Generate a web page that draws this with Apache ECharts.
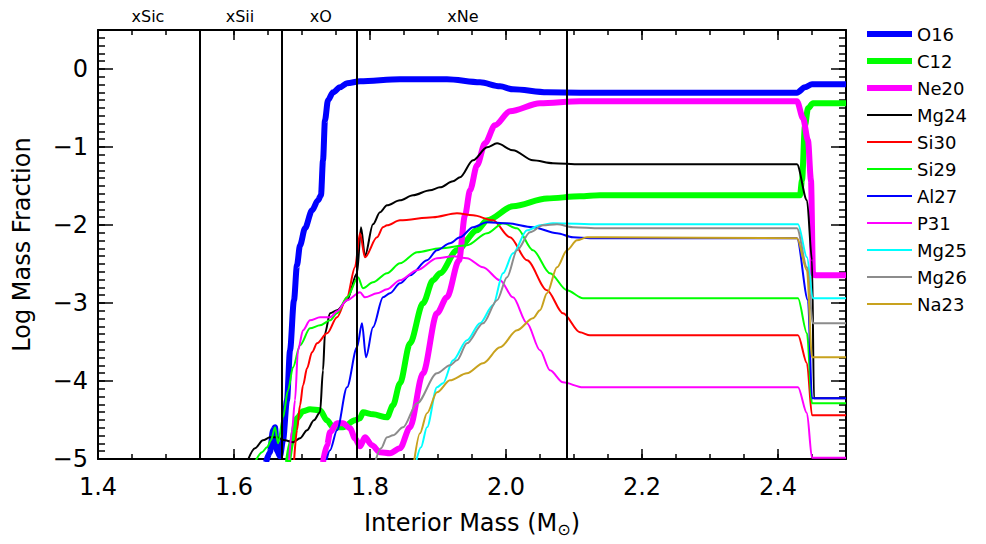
<!DOCTYPE html>
<html><head><meta charset="utf-8">
<script src="https://cdn.jsdelivr.net/npm/echarts/dist/echarts.min.js"></script>
<style>html,body{margin:0;padding:0;background:#fff}#c{width:986px;height:544px}</style>
</head><body><div id="c"></div>
<script>
// ---- data (interior mass in Msun, log mass fraction) ----
const O16 = [[1.6471,-5.04],[1.6529,-4.914],[1.6574,-4.632],[1.6603,-4.594],[1.6632,-4.888],[1.6676,-4.966],[1.6721,-4.76],[1.6779,-4.247],[1.6824,-3.606],[1.6882,-2.965],[1.6926,-2.517],[1.6971,-2.26],[1.7044,-2.042],[1.7147,-1.812],[1.7235,-1.683],[1.7279,-1.619],[1.7309,-1.171],[1.7338,-0.658],[1.7382,-0.401],[1.7456,-0.299],[1.7559,-0.235],[1.7662,-0.183],[1.7853,-0.158],[1.8441,-0.132],[1.9132,-0.132],[1.9618,-0.171],[1.9912,-0.222],[2.0103,-0.26],[2.0603,-0.299],[2.1088,-0.303],[2.4279,-0.303],[2.4397,-0.235],[2.45,-0.196],[2.5,-0.196]];
const C12 = [[1.6794,-5.04],[1.6853,-4.76],[1.6926,-4.478],[1.7015,-4.388],[1.7118,-4.363],[1.7265,-4.376],[1.7368,-4.504],[1.7456,-4.594],[1.7603,-4.594],[1.7779,-4.504],[1.7853,-4.478],[1.7897,-4.401],[1.8044,-4.427],[1.825,-4.465],[1.8338,-4.312],[1.8441,-4.029],[1.8588,-3.517],[1.8779,-3.004],[1.8926,-2.709],[1.9029,-2.619],[1.9279,-2.324],[1.9574,-2.068],[1.9721,-1.94],[2.0103,-1.76],[2.0603,-1.66],[2.1088,-1.632],[2.1382,-1.619],[2.4324,-1.619],[2.4353,-1.427],[2.4397,-0.723],[2.4441,-0.504],[2.4515,-0.44],[2.5,-0.44]];
const Ne20 = [[1.7309,-5.04],[1.7368,-4.824],[1.7412,-4.658],[1.7515,-4.542],[1.7603,-4.542],[1.7706,-4.606],[1.7779,-4.735],[1.7853,-4.837],[1.7926,-4.722],[1.8029,-4.824],[1.8147,-4.914],[1.8294,-4.927],[1.8441,-4.863],[1.8588,-4.594],[1.8779,-3.901],[1.8985,-3.132],[1.9132,-2.927],[1.9309,-2.453],[1.9397,-1.876],[1.9471,-1.555],[1.9574,-1.235],[1.9691,-0.953],[1.9838,-0.722],[2.0059,-0.542],[2.05,-0.44],[2.1088,-0.414],[2.4279,-0.414],[2.4368,-0.632],[2.4441,-0.914],[2.4485,-1.427],[2.4515,-2.619],[2.4544,-2.645],[2.5,-2.645]];
const Mg24 = [[1.6191,-5.04],[1.6309,-4.863],[1.6426,-4.76],[1.6529,-4.722],[1.6632,-4.722],[1.675,-4.76],[1.6868,-4.786],[1.6971,-4.735],[1.7074,-4.632],[1.7176,-4.504],[1.7265,-4.401],[1.7309,-3.863],[1.7338,-3.389],[1.7412,-3.132],[1.7515,-3.093],[1.7662,-2.965],[1.7809,-2.619],[1.7868,-2.029],[1.7926,-2.401],[1.8044,-1.991],[1.8147,-1.837],[1.825,-1.747],[1.8441,-1.683],[1.8632,-1.619],[1.8882,-1.555],[1.9029,-1.517],[1.9221,-1.44],[1.9324,-1.388],[1.9515,-1.171],[1.9721,-1.004],[1.9868,-0.953],[2.0103,-1.042],[2.0397,-1.171],[2.0691,-1.209],[2.1088,-1.222],[2.4279,-1.222],[2.4426,-1.683],[2.45,-2.453],[2.4529,-4.222],[2.5,-4.222]];
const Si30 = [[1.6882,-5.04],[1.6926,-4.632],[1.6971,-4.311],[1.7015,-4.055],[1.7074,-3.837],[1.7147,-3.632],[1.7221,-3.517],[1.7368,-3.389],[1.7515,-3.183],[1.7662,-2.927],[1.7779,-2.542],[1.7853,-2.106],[1.7926,-2.414],[1.8103,-2.158],[1.8191,-2.029],[1.825,-2.004],[1.8441,-1.94],[1.8926,-1.901],[1.9279,-1.85],[1.9515,-1.876],[1.9809,-1.94],[2.0059,-2.158],[2.0309,-2.453],[2.0603,-2.837],[2.0838,-3.132],[2.1088,-3.376],[2.1235,-3.414],[2.4294,-3.414],[2.4426,-3.773],[2.45,-4.44],[2.5,-4.44]];
const Si29 = [[1.6309,-5.04],[1.6412,-4.914],[1.6485,-4.85],[1.6544,-4.76],[1.6603,-4.594],[1.6647,-4.799],[1.6721,-4.465],[1.6794,-4.119],[1.6868,-3.824],[1.6971,-3.542],[1.7118,-3.325],[1.7265,-3.286],[1.7412,-3.222],[1.7515,-3.132],[1.7662,-2.927],[1.7824,-2.67],[1.7897,-2.811],[1.8044,-2.735],[1.825,-2.619],[1.8441,-2.491],[1.8691,-2.35],[1.9029,-2.299],[1.9426,-2.26],[1.9721,-2.106],[1.9956,-1.978],[2.0162,-2.042],[2.0397,-2.324],[2.0647,-2.619],[2.0897,-2.837],[2.1132,-2.94],[2.4294,-2.94],[2.4426,-3.389],[2.45,-4.286],[2.5,-4.286]];
const Al27 = [[1.7353,-5.04],[1.7412,-4.888],[1.7515,-4.632],[1.7662,-4.081],[1.7809,-3.568],[1.7882,-3.26],[1.7941,-3.696],[1.8044,-3.312],[1.8191,-2.927],[1.8294,-2.876],[1.8441,-2.747],[1.8588,-2.645],[1.8838,-2.453],[1.8985,-2.324],[1.9176,-2.235],[1.9324,-2.158],[1.9515,-2.029],[1.9721,-1.965],[2.0015,-1.978],[2.0397,-2.029],[2.075,-2.106],[2.0985,-2.158],[2.1235,-2.17],[2.4279,-2.17],[2.4441,-2.965],[2.45,-4.222],[2.5,-4.222]];
const P31 = [[1.6809,-5.04],[1.6853,-4.632],[1.6897,-4.247],[1.6941,-3.606],[1.7015,-3.35],[1.7118,-3.222],[1.7265,-3.183],[1.7412,-3.183],[1.7515,-3.106],[1.7662,-2.965],[1.7853,-2.863],[1.7926,-2.927],[1.8103,-2.876],[1.825,-2.824],[1.8441,-2.709],[1.8691,-2.581],[1.8985,-2.427],[1.9221,-2.401],[1.9426,-2.427],[1.9662,-2.542],[1.9912,-2.709],[2.0103,-2.927],[2.0309,-3.26],[2.05,-3.606],[2.0647,-3.863],[2.0838,-4.017],[2.1132,-4.081],[2.4294,-4.081],[2.4426,-4.414],[2.45,-4.985],[2.5,-4.985]];
const Mg25 = [[1.8676,-5.04],[1.875,-4.85],[1.8838,-4.594],[1.8985,-4.081],[1.9074,-4.029],[1.9221,-3.735],[1.9426,-3.478],[1.9618,-3.26],[1.9809,-3.029],[1.9956,-2.619],[2.0103,-2.363],[2.0309,-2.068],[2.05,-2.004],[2.0691,-1.978],[2.1382,-1.991],[2.4294,-1.991],[2.4426,-2.414],[2.4515,-2.94],[2.5,-2.94]];
const Mg26 = [[1.8074,-5.04],[1.8162,-4.863],[1.825,-4.722],[1.8338,-4.696],[1.8485,-4.594],[1.8691,-4.286],[1.8985,-3.901],[1.9176,-3.799],[1.9279,-3.735],[1.9426,-3.517],[1.9662,-3.26],[1.9868,-2.965],[2.0015,-2.67],[2.0162,-2.324],[2.0353,-2.094],[2.0544,-2.004],[2.075,-1.991],[2.0985,-2.029],[2.1382,-2.042],[2.4279,-2.042],[2.4426,-2.542],[2.4515,-3.26],[2.5,-3.26]];
const Na23 = [[1.8647,-5.04],[1.8735,-4.67],[1.8838,-4.414],[1.8985,-4.145],[1.9176,-3.991],[1.9426,-3.901],[1.9662,-3.773],[1.9912,-3.568],[2.0162,-3.35],[2.0397,-3.196],[2.05,-3.093],[2.0603,-2.876],[2.075,-2.542],[2.0897,-2.324],[2.1044,-2.196],[2.1191,-2.158],[2.1382,-2.158],[2.4279,-2.17],[2.4426,-2.581],[2.45,-3.696],[2.5,-3.696]];

const speciesNames = ['O16','C12','Ne20','Mg24','Si30','Si29','Al27','P31','Mg25','Mg26','Na23'];
const speciesData = [O16, C12, Ne20, Mg24, Si30, Si29, Al27, P31, Mg25, Mg26, Na23];
const zoneEdges = [1.547, 1.6706, 1.785, 2.0882];
const zoneNames = ['xSic', 'xSii', 'xO', 'xNe'];
const xRange = [1.4, 2.5];
const yRange = [-5, 0.5];

// ---- styles ----
const colors = ['#0000ff','#00ff00','#ff00ff','#000000','#ff0000','#00ff00','#0000ff','#ff00ff','#00ffff','#8c8c8c','#c8a21e'];
const widths = [6,6,6,2,2,2,2,2,2,2,2];
const FF = 'DejaVu Sans';

const series = speciesNames.map((n, i) => ({
  name: n, type: 'line', data: speciesData[i], showSymbol: false, symbol: 'none',
  smooth: 0.3, smoothMonotone: 'x', clip: true,
  lineStyle: { color: colors[i], width: widths[i] }, itemStyle: { color: colors[i] },
  z: 2
}));

const areaData = zoneNames.map((nm, i) => [
  { xAxis: i === 0 ? xRange[0] : zoneEdges[i - 1], name: nm },
  { xAxis: zoneEdges[i] }
]);

series.push({
  name: 'zones', type: 'line', data: [], z: 5, silent: true,
  markLine: {
    silent: true, symbol: ['none', 'none'], animation: false,
    lineStyle: { color: '#000', width: 2, type: 'solid' },
    label: { show: false },
    data: zoneEdges.map(v => ({ xAxis: v }))
  },
  markArea: {
    silent: true, itemStyle: { color: 'rgba(0,0,0,0)' },
    label: { show: true, position: 'top', distance: 6, fontSize: 16, fontFamily: FF, color: '#000' },
    data: areaData
  }
});

function xAx(pos, interval, len, labels, line) {
  return {
    type: 'value', position: pos, min: xRange[0], max: xRange[1], interval: interval,
    splitLine: { show: false },
    axisLine: { show: line, onZero: false, lineStyle: { color: '#000', width: 2 } },
    axisTick: { show: true, inside: true, length: len, lineStyle: { color: '#000', width: 1.5 } },
    axisLabel: labels ? { show: true, fontSize: 24, fontFamily: FF, color: '#000', margin: 16,
      formatter: v => v.toFixed(1), showMaxLabel: false } : { show: false }
  };
}
function yAx(pos, interval, len, labels, line) {
  return {
    type: 'value', position: pos, min: yRange[0], max: yRange[1], interval: interval,
    splitLine: { show: false },
    axisLine: { show: line, lineStyle: { color: '#000', width: 2 } },
    axisTick: { show: true, inside: true, length: len, lineStyle: { color: '#000', width: 1.5 } },
    axisLabel: labels ? { show: true, fontSize: 24, fontFamily: FF, color: '#000', margin: 10,
      formatter: v => (v < 0 ? '\u2212' + Math.abs(v) : String(v)), showMaxLabel: false } : { show: false }
  };
}

const xMain = xAx('bottom', 0.2, 10, true, true);
xMain.name = 'Interior Mass (M{s|\u2299})';
xMain.nameLocation = 'middle';
xMain.nameGap = 50;
xMain.nameTextStyle = { fontSize: 24, fontFamily: FF, color: '#000',
  rich: { s: { fontSize: 16, fontFamily: FF, color: '#000', padding: [12, 0, 0, 0] } } };

const yMain = yAx('left', 1, 15, true, true);
yMain.name = 'Log Mass Fraction';
yMain.nameLocation = 'middle';
yMain.nameGap = 64;
yMain.nameTextStyle = { fontSize: 24, fontFamily: FF, color: '#000' };

const legendBase = {
  orient: 'vertical', left: 862, itemWidth: 45, itemGap: 9, icon: 'rect',
  itemStyle: { borderWidth: 0 },
  textStyle: { fontSize: 18, fontFamily: FF, color: '#000' }
};

const option = {
  animation: false,
  grid: { left: 98, right: 140, top: 30, bottom: 85, containLabel: false },
  xAxis: [xMain, xAx('bottom', 0.05, 5, false, false), xAx('top', 0.2, 10, false, true), xAx('top', 0.05, 5, false, false)],
  yAxis: [yMain, yAx('left', 0.1, 7, false, false), yAx('right', 1, 15, false, true), yAx('right', 0.1, 7, false, false)],
  legend: [
    Object.assign({}, legendBase, { data: speciesNames.slice(0, 3), top: 20, itemHeight: 6 }),
    Object.assign({}, legendBase, { data: speciesNames.slice(3), top: 101, itemHeight: 2 })
  ],
  series: series
};

const chart = echarts.init(document.getElementById('c'), null, { renderer: 'svg' });
chart.setOption(option);
</script></body></html>
